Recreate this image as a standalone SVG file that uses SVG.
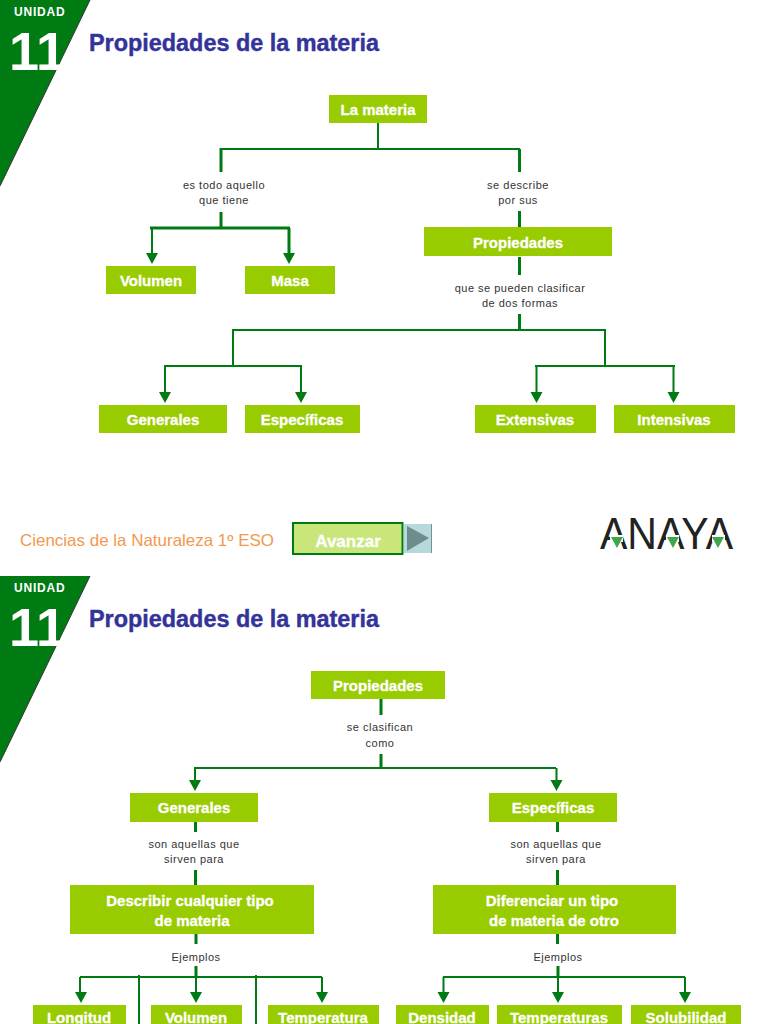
<svg xmlns="http://www.w3.org/2000/svg" width="768" height="1024" viewBox="0 0 768 1024">
<style>
text{font-family:"Liberation Sans",Arial,sans-serif}
.n{fill:#99cc00}
.t{fill:#fff;stroke:#fff;stroke-width:.3px;font-weight:700;font-size:15px;text-anchor:middle}
.l{fill:#333;font-size:11px;text-anchor:middle;letter-spacing:.5px}
.c{fill:none;stroke:#007a12;stroke-width:2}
.c3{fill:none;stroke:#007a12;stroke-width:3}
.h{fill:#333399;stroke:#333399;stroke-width:.4px;font-weight:700;font-size:23px}
.u{fill:#fff;font-weight:700;font-size:12px;letter-spacing:.8px}
.num{fill:#fff;font-weight:700;font-size:54px}
.a{fill:#007a12}
</style>
<defs>
<g id="badge"><path d="M0 0H90L0 186Z" fill="#007a12"/><path d="M90 0L0 186" fill="none" stroke="#333" stroke-width="1"/><text class="u" x="14" y="16">UNIDAD</text><text class="num" x="9 36" y="70">11</text></g>
<path id="ah" d="M-6 -10H6L0 1Z" class="a"/>
</defs>
<rect width="768" height="1024" fill="#fff"/>
<g id="header-1"><use href="#badge"/><text class="h" x="89" y="51" textLength="290" lengthAdjust="spacingAndGlyphs">Propiedades de la materia</text></g>
<g id="header-2"><use href="#badge" y="576"/><text class="h" x="89" y="627" textLength="290" lengthAdjust="spacingAndGlyphs">Propiedades de la materia</text></g>
<g id="connectors">
<path class="c" d="M378 123V149M220 149H520M233 330H606M233 329V366M605 330V366M164 366H302M535 366H675M165 366V394M301 366V394M536.500 366V394M673.500 366V394M152 228V255"/>
<path class="c3" d="M221 148V172M519.500 149V172M519.500 211V227M519.500 257V275M519.500 314V330M221 212V228M150 228H290M289 228V255"/>
<path class="c" d="M195 768H556M195 767V783M556.500 768V783M443.500 977V995M558 977V995M685 977V995M80 977H322M443 977H685M80 977V995M196 977V995M322 977V995M139 975V1024M256 975V1024"/>
<path class="c3" d="M381 699V715M381 754V769M195.500 822V832M557.500 822V832M195.500 870V885M557.500 870V885M196 934V944M557.500 934V944M196 966V977M558 966V977"/>
<use href="#ah" x="152" y="263"/><use href="#ah" x="289" y="263"/><use href="#ah" x="165" y="402"/><use href="#ah" x="301" y="402"/><use href="#ah" x="536.500" y="402"/><use href="#ah" x="673.500" y="402"/><use href="#ah" x="195" y="790"/><use href="#ah" x="556.500" y="790"/><use href="#ah" x="81" y="1002"/><use href="#ah" x="196" y="1002"/><use href="#ah" x="322" y="1002"/><use href="#ah" x="443.500" y="1002"/><use href="#ah" x="558" y="1002"/><use href="#ah" x="685" y="1002"/>
</g>
<g id="n-materia"><rect class="n" x="329" y="95" width="98" height="28"/><text class="t" x="378" y="115">La materia</text></g>
<g id="n-volumen"><rect class="n" x="106" y="266" width="90" height="28"/><text class="t" x="151" y="286">Volumen</text></g>
<g id="n-masa"><rect class="n" x="245" y="266" width="90" height="28"/><text class="t" x="290" y="286">Masa</text></g>
<g id="n-prop"><rect class="n" x="424" y="227" width="188" height="29"/><text class="t" x="518" y="248">Propiedades</text></g>
<g id="n-gen"><rect class="n" x="99" y="405" width="128" height="28"/><text class="t" x="163" y="425">Generales</text></g>
<g id="n-esp"><rect class="n" x="245" y="405" width="115" height="28"/><text class="t" x="302" y="425">Específicas</text></g>
<g id="n-ext"><rect class="n" x="475" y="405" width="121" height="28"/><text class="t" x="535" y="425">Extensivas</text></g>
<g id="n-int"><rect class="n" x="614" y="405" width="121" height="28"/><text class="t" x="674" y="425">Intensivas</text></g>
<g id="n-prop2"><rect class="n" x="311" y="671" width="134" height="28"/><text class="t" x="378" y="691">Propiedades</text></g>
<g id="n-gen2"><rect class="n" x="130" y="793" width="128" height="29"/><text class="t" x="194" y="813">Generales</text></g>
<g id="n-esp2"><rect class="n" x="489" y="793" width="128" height="29"/><text class="t" x="553" y="813">Específicas</text></g>
<g id="n-desc"><rect class="n" x="70" y="885" width="244" height="49"/><text class="t" x="190" y="906">Describir cualquier tipo</text><text class="t" x="192" y="926">de materia</text></g>
<g id="n-dif"><rect class="n" x="433" y="885" width="243" height="49"/><text class="t" x="552" y="906">Diferenciar un tipo</text><text class="t" x="554" y="926">de materia de otro</text></g>
<g id="n-long"><rect class="n" x="33" y="1005" width="93" height="19"/><text class="t" x="79" y="1023">Longitud</text></g>
<g id="n-vol2"><rect class="n" x="151" y="1005" width="91" height="19"/><text class="t" x="196" y="1023">Volumen</text></g>
<g id="n-temp"><rect class="n" x="268" y="1005" width="111" height="19"/><text class="t" x="323" y="1023">Temperatura</text></g>
<g id="n-den"><rect class="n" x="396" y="1005" width="93" height="19"/><text class="t" x="442" y="1023">Densidad</text></g>
<g id="n-temps"><rect class="n" x="497" y="1005" width="125" height="19"/><text class="t" x="559" y="1023">Temperaturas</text></g>
<g id="n-sol"><rect class="n" x="631" y="1005" width="110" height="19"/><text class="t" x="686" y="1023">Solubilidad</text></g>
<g id="labels">
<text class="l" x="224" y="189">es todo aquello</text><text class="l" x="224" y="204">que tiene</text>
<text class="l" x="518" y="189">se describe</text><text class="l" x="518" y="204">por sus</text>
<text class="l" x="520" y="292">que se pueden clasificar</text><text class="l" x="520" y="307">de dos formas</text>
<text class="l" x="380" y="731">se clasifican</text><text class="l" x="380" y="747">como</text>
<text class="l" x="194" y="848">son aquellas que</text><text class="l" x="194" y="863">sirven para</text>
<text class="l" x="556" y="848">son aquellas que</text><text class="l" x="556" y="863">sirven para</text>
<text class="l" x="196" y="961">Ejemplos</text><text class="l" x="558" y="961">Ejemplos</text>
</g>
<g id="footer">
<text x="20" y="546" fill="#f2994f" font-size="16.500" textLength="254" lengthAdjust="spacingAndGlyphs">Ciencias de la Naturaleza 1º ESO</text>
<rect x="404" y="524" width="28" height="29" fill="#b5d9dc"/><path d="M431.500 524V553" stroke="#78908f" stroke-width="1"/><path d="M407 526L429 538L407 551Z" fill="#6f8c8c"/>
<rect x="293" y="523" width="109.500" height="31" fill="#c8e67a" stroke="#007a12" stroke-width="2"/><text x="348" y="547" fill="#fff" stroke="#fff" stroke-width=".3" font-weight="700" font-size="17" text-anchor="middle">Avanzar</text>
</g>
<g id="logo">
<text x="600" y="549" fill="#222" font-size="44" textLength="133" lengthAdjust="spacingAndGlyphs">ANAYA</text>
<path d="M610 535h13v7h-13ZM666 535h13v7h-13ZM712 535h13v7h-13Z" fill="#fff"/>
<path d="M611 537h12l-6 11ZM667 537h12l-6 11ZM712 537h12l-6 11Z" fill="#3fa64a"/>
</g>
</svg>
